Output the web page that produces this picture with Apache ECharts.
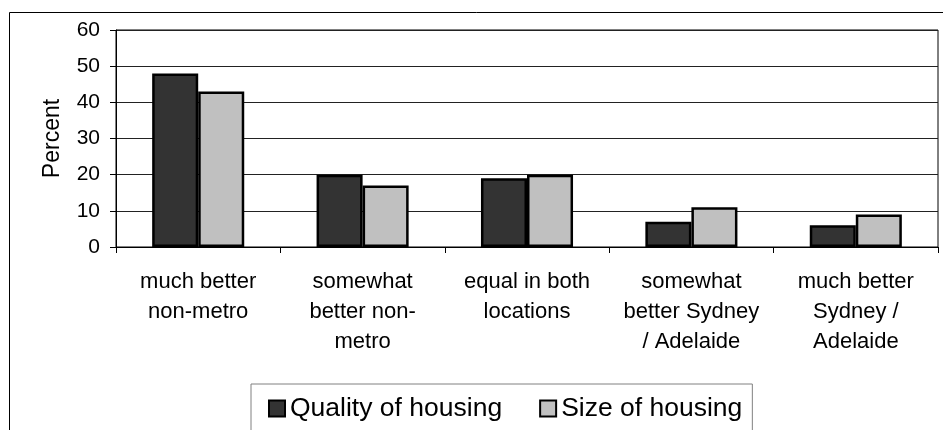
<!DOCTYPE html>
<html>
<head>
<meta charset="utf-8">
<script src="https://cdn.jsdelivr.net/npm/echarts@6/dist/echarts.min.js"></script>
<style>
html,body{margin:0;padding:0;background:#fff;}
#chart{width:943px;height:430px;}
</style>
</head>
<body>
<div id="chart"></div>
<script>
const categories = [
  "much better\nnon-metro",
  "somewhat\nbetter non-\nmetro",
  "equal in both\nlocations",
  "somewhat\nbetter Sydney\n/ Adelaide",
  "much better\nSydney /\nAdelaide"
];
const seriesNames = ["Quality of housing", "Size of housing"];
const qualityValues = [48, 20, 19, 7, 6];
const sizeValues = [43, 17, 20, 11, 9];
const yTicks = { min: 0, max: 60, interval: 10 };

const FONT = '"Liberation Sans", Arial, sans-serif';
const chart = echarts.init(document.getElementById('chart'), null, { renderer: 'canvas' });

chart.setOption({
  animation: false,
  backgroundColor: '#ffffff',
  textStyle: { fontFamily: FONT, color: '#000' },
  graphic: [{
    type: 'rect',
    silent: true,
    z: -10,
    shape: { x: 9.5, y: 12.5, width: 1200, height: 1000 },
    style: { fill: 'none', stroke: '#000', lineWidth: 1 }
  }],
  grid: {
    left: 116, top: 30, right: 5, bottom: 183,
    show: true, borderColor: '#000', borderWidth: 1, backgroundColor: 'transparent'
  },
  legend: {
    left: 251, top: 384,
    orient: 'horizontal',
    padding: [11, 10, 40, 17],
    borderColor: '#808080', borderWidth: 1,
    itemGap: 37,
    itemWidth: 16, itemHeight: 16,
    icon: 'rect',
    textStyle: { fontFamily: FONT, fontSize: 26.5, color: '#000' },
    data: seriesNames
  },
  xAxis: {
    type: 'category',
    data: categories,
    axisLine: { show: true, lineStyle: { color: '#000', width: 1 } },
    axisTick: { show: true, interval: 0, length: 6, lineStyle: { color: '#000' } },
    axisLabel: {
      interval: 0, margin: 20, fontFamily: FONT, fontSize: 22, lineHeight: 30,
      color: '#000', align: 'center'
    },
    splitLine: { show: false }
  },
  yAxis: {
    type: 'value',
    min: yTicks.min, max: yTicks.max, interval: yTicks.interval,
    name: 'Percent',
    nameLocation: 'middle',
    nameRotate: 90,
    nameGap: 52,
    nameTextStyle: { fontFamily: FONT, fontSize: 23, color: '#000' },
    axisLine: { show: true, lineStyle: { color: '#000', width: 1 } },
    axisTick: { show: true, length: 6, lineStyle: { color: '#000' } },
    axisLabel: { margin: 16, fontFamily: FONT, fontSize: 21, color: '#000' },
    splitLine: { show: true, lineStyle: { color: '#222', width: 1 } }
  },
  series: [
    {
      name: seriesNames[0], type: 'bar', data: qualityValues,
      barGap: '0%', barCategoryGap: '44%',
      itemStyle: { color: '#333333', borderColor: '#000', borderWidth: 2.5 }
    },
    {
      name: seriesNames[1], type: 'bar', data: sizeValues,
      barGap: '0%', barCategoryGap: '44%',
      itemStyle: { color: '#c0c0c0', borderColor: '#000', borderWidth: 2.5 }
    }
  ]
});
</script>
</body>
</html>
